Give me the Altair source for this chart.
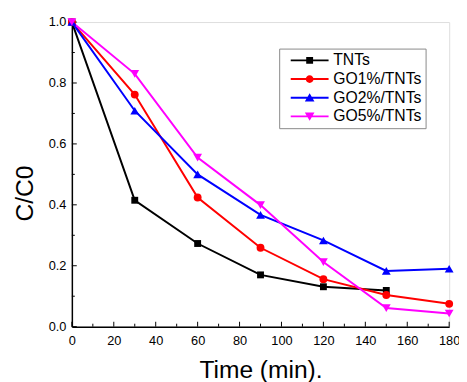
import altair as alt
import pandas as pd

series = ["TNTs", "GO1%/TNTs", "GO2%/TNTs", "GO5%/TNTs"]
colors = ["#000000", "#FF0000", "#0000FF", "#FF00FF"]
marker_shapes = ["square", "circle", "triangle-up", "triangle-down"]
marker_sizes = [49, 64, 80, 80]

times_tnts = [0, 30, 60, 90, 120, 150]
tnts = [1.0, 0.415, 0.273, 0.170, 0.131, 0.119]
times = [0, 30, 60, 90, 120, 150, 180]
go1 = [1.0, 0.762, 0.424, 0.259, 0.156, 0.104, 0.075]
go2 = [1.0, 0.709, 0.500, 0.367, 0.283, 0.183, 0.190]
go5 = [1.0, 0.830, 0.555, 0.399, 0.212, 0.061, 0.043]

x_major = [0, 20, 40, 60, 80, 100, 120, 140, 160, 180]
x_minor = [10, 30, 50, 70, 90, 110, 130, 150, 170]
y_major = [0.0, 0.2, 0.4, 0.6, 0.8, 1.0]
y_minor = [0.1, 0.3, 0.5, 0.7, 0.9]

rows = []
for t, v in zip(times_tnts, tnts):
    rows.append({"series": series[0], "t": t, "v": v})
for s, vals in zip(series[1:], [go1, go2, go5]):
    for t, v in zip(times, vals):
        rows.append({"series": s, "t": t, "v": v})
df = pd.DataFrame(rows)

# legend symbol paths: line segment + marker
line_seg = "M-2.75,-0.14H2.75V0.14H-2.75Z"
legend_paths = [
    line_seg + "M-0.5,-0.5H0.5V0.5H-0.5Z",
    line_seg + "M0.57,0A0.57,0.57 0 1,1 -0.57,0A0.57,0.57 0 1,1 0.57,0Z",
    line_seg + "M0,-0.64L0.7,0.55H-0.7Z",
    line_seg + "M0,0.64L-0.7,-0.55H0.7Z",
]

W, H = 384, 310
xscale = alt.Scale(domain=[0, 180], nice=False, zero=False)
yscale = alt.Scale(domain=[0, 1], nice=False, zero=False)
cscale = alt.Scale(domain=series, range=colors)

FONT = "Liberation Sans"

x_axis = alt.Axis(values=x_major, format="d", title="Time (min).", titleFontSize=25,
                  titleFontWeight="normal", titleFont=FONT, titleBaseline="alphabetic",
                  titleY=52, labelPadding=8, labelFont=FONT, labelFontSize=13,
                  labelColor="black", titleColor="black", ticks=False, grid=False,
                  domainColor="black", domainWidth=1.5, labelFlush=False)
y_axis = alt.Axis(values=y_major, format=".1f", title="C/C0", titleFontSize=25,
                  titleFontWeight="normal", titleFont=FONT, titleBaseline="alphabetic",
                  titleX=-40, titleY=174, titleAngle=-90, titleAlign="center", labelPadding=6,
                  labelFont=FONT, labelFontSize=13, labelColor="black", titleColor="black",
                  ticks=False, grid=False, domainColor="black", domainWidth=1.5,
                  labelFlush=False)

lines = alt.Chart(df).mark_line(strokeWidth=2).encode(
    x=alt.X("t:Q", scale=xscale, axis=x_axis),
    y=alt.Y("v:Q", scale=yscale, axis=y_axis),
    color=alt.Color("series:N", scale=cscale, legend=None),
    detail="series:N",
)

markers = []
for s, shp, sz in zip(series, marker_shapes, marker_sizes):
    markers.append(
        alt.Chart(df).transform_filter(alt.datum.series == s)
        .mark_point(shape=shp, filled=True, size=sz, opacity=1)
        .encode(
            x=alt.X("t:Q", scale=xscale, axis=None),
            y=alt.Y("v:Q", scale=yscale, axis=None),
            color=alt.Color("series:N", scale=cscale, legend=None),
        )
    )

leg = alt.Legend(title=None, orient="none", legendX=211, legendY=27,
                 labelFont=FONT, labelFontSize=16, labelColor="black",
                 symbolSize=196, symbolOffset=19, labelOffset=16, rowPadding=3,
                 padding=4, strokeColor="#888888", fillColor="white",
                 symbolStrokeWidth=0, symbolOpacity=1, labelLimit=200)

legend_layer = alt.Chart(df).transform_filter("datum.t < 0").mark_point(
    filled=True, size=196, opacity=1).encode(
    x=alt.X("t:Q", scale=xscale, axis=None),
    y=alt.Y("v:Q", scale=yscale, axis=None),
    color=alt.Color("series:N", scale=cscale, legend=leg),
    shape=alt.Shape("series:N", scale=alt.Scale(domain=series, range=legend_paths), legend=leg),
)

def xt(vals, ln):
    return alt.Chart(pd.DataFrame({"t": vals})).mark_rule(color="black", strokeWidth=1).encode(
        x=alt.X("t:Q", scale=xscale, axis=None),
        y=alt.value(H), y2=alt.value(H - ln))

def yt(vals, ln):
    return alt.Chart(pd.DataFrame({"v": vals})).mark_rule(color="black", strokeWidth=1).encode(
        y=alt.Y("v:Q", scale=yscale, axis=None),
        x=alt.value(0), x2=alt.value(ln))

chart = alt.layer(
    lines, xt(x_major, 5), xt(x_minor, 3), yt(y_major, 5), yt(y_minor, 3),
    *markers, legend_layer,
).resolve_axis(
    x="independent", y="independent"
).resolve_legend(
    color="independent", shape="independent"
).properties(
    width=W, height=H,
    padding={"left": 65, "top": 11, "right": 10, "bottom": 53},
    autosize=alt.AutoSizeParams(type="none"),
).configure_view(
    stroke="black", strokeWidth=1.5
).configure(background="white")

chart.save("out.html", embed_options={"renderer": "svg", "actions": False})
